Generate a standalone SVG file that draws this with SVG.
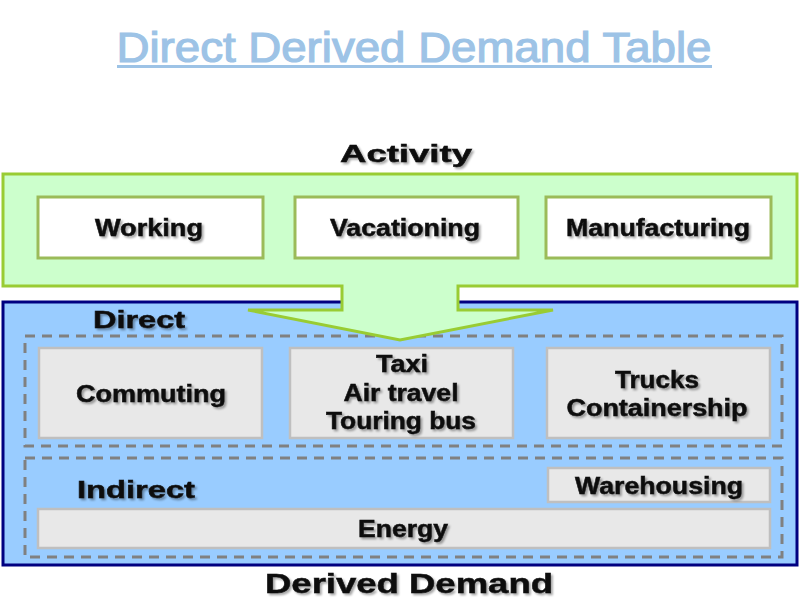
<svg xmlns="http://www.w3.org/2000/svg" width="800" height="600" viewBox="0 0 800 600">
<style>
.t{font-family:"Liberation Sans",Arial,sans-serif;font-weight:bold;fill:#111;stroke:#111;stroke-width:0.5;text-anchor:middle}
.act{fill:#fff;stroke:#9bbb59;stroke-width:3}
.dem{fill:#e8e8e8;stroke:#bfbfbf;stroke-width:2.5}
.dash{fill:none;stroke:#808080;stroke-width:3;stroke-dasharray:10 7}
</style>
<defs>
<filter id="sh" x="-5%" y="-20%" width="110%" height="140%">
<feGaussianBlur in="SourceAlpha" stdDeviation="0.8"/>
<feOffset dx="1.5" dy="1.5" result="b"/>
<feComponentTransfer><feFuncA type="linear" slope="0.35"/></feComponentTransfer>
<feMerge><feMergeNode/><feMergeNode in="SourceGraphic"/></feMerge>
</filter>
</defs>
<rect width="800" height="600" fill="#fff"/>
<g id="title">
<text x="414" y="62" font-family="Liberation Sans,Arial,sans-serif" font-size="42" fill="#9dc3e6" text-anchor="middle" textLength="595" lengthAdjust="spacingAndGlyphs" stroke="#9dc3e6" stroke-width="1.2">Direct Derived Demand Table</text>
<rect x="117" y="65" width="595" height="3" fill="#9dc3e6"/>
</g>
<g id="derived-demand">
<rect x="3" y="302" width="794" height="263" fill="#99ccff" stroke="#000080" stroke-width="3"/>
<text class="t" x="409" y="593" font-size="28" textLength="288" lengthAdjust="spacingAndGlyphs" filter="url(#sh)">Derived Demand</text>
</g>
<g id="direct">
<rect class="dash" x="25" y="336" width="757" height="110"/>
<text class="t" x="139" y="328" font-size="23" textLength="92" lengthAdjust="spacingAndGlyphs" filter="url(#sh)">Direct</text>
</g>
<g id="indirect">
<rect class="dash" x="25" y="458" width="757" height="99"/>
<text class="t" x="136" y="498" font-size="23" textLength="118" lengthAdjust="spacingAndGlyphs" filter="url(#sh)">Indirect</text>
</g>
<g id="activity">
<path d="M3,174 H797 V286 H458 V310 H553 L400,340 L248,310 H342 V286 H3 Z" fill="#ccffcc" stroke="#99cc33" stroke-width="3" stroke-linejoin="miter"/>
<text class="t" x="406" y="162" font-size="23" textLength="132" lengthAdjust="spacingAndGlyphs" filter="url(#sh)">Activity</text>
</g>
<g id="working">
<rect class="act" x="38" y="197" width="225" height="61"/>
<text class="t" x="149" y="236" font-size="23" textLength="108" lengthAdjust="spacingAndGlyphs" filter="url(#sh)">Working</text>
</g>
<g id="vacationing">
<rect class="act" x="295" y="197" width="223" height="61"/>
<text class="t" x="405" y="236" font-size="23" textLength="150" lengthAdjust="spacingAndGlyphs" filter="url(#sh)">Vacationing</text>
</g>
<g id="manufacturing">
<rect class="act" x="546" y="197" width="225" height="61"/>
<text class="t" x="658" y="236" font-size="23" textLength="184" lengthAdjust="spacingAndGlyphs" filter="url(#sh)">Manufacturing</text>
</g>
<g id="commuting">
<rect class="dem" x="39" y="348" width="223" height="90"/>
<text class="t" x="151" y="402" font-size="23" textLength="150" lengthAdjust="spacingAndGlyphs" filter="url(#sh)">Commuting</text>
</g>
<g id="passenger">
<rect class="dem" x="290" y="348" width="223" height="90"/>
<text class="t" x="402" y="372" font-size="23" textLength="52" lengthAdjust="spacingAndGlyphs" filter="url(#sh)">Taxi</text>
<text class="t" x="401" y="401" font-size="23" textLength="115" lengthAdjust="spacingAndGlyphs" filter="url(#sh)">Air travel</text>
<text class="t" x="401" y="429" font-size="23" textLength="150" lengthAdjust="spacingAndGlyphs" filter="url(#sh)">Touring bus</text>
</g>
<g id="freight">
<rect class="dem" x="547" y="348" width="223" height="90"/>
<text class="t" x="657" y="388" font-size="23" textLength="84" lengthAdjust="spacingAndGlyphs" filter="url(#sh)">Trucks</text>
<text class="t" x="657" y="416" font-size="23" textLength="181" lengthAdjust="spacingAndGlyphs" filter="url(#sh)">Containership</text>
</g>
<g id="warehousing">
<rect class="dem" x="548" y="468" width="222" height="34"/>
<text class="t" x="659" y="494" font-size="23" textLength="168" lengthAdjust="spacingAndGlyphs" filter="url(#sh)">Warehousing</text>
</g>
<g id="energy">
<rect class="dem" x="38" y="509" width="732" height="39"/>
<text class="t" x="403" y="537" font-size="23" textLength="90" lengthAdjust="spacingAndGlyphs" filter="url(#sh)">Energy</text>
</g>
<g id="connectors"></g>
</svg>
